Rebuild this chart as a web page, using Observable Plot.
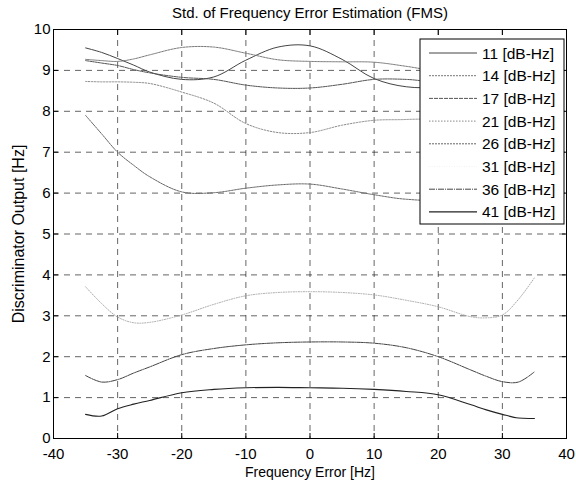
<!DOCTYPE html>
<html><head><meta charset="utf-8">
<script src="https://cdn.jsdelivr.net/npm/d3@7"></script>
<script src="https://cdn.jsdelivr.net/npm/@observablehq/plot@0.6"></script>
<style>
body{margin:0;background:#fff;}
#chart{width:576px;height:486px;}
</style></head><body><div id="chart"></div>
<script>
const title = "Std. of Frequency Error Estimation (FMS)";
const xLabel = "Frequency Error [Hz]";
const yLabel = "Discriminator Output [Hz]";
const snr = [11, 14, 17, 21, 26, 31, 36, 41];
const seriesNames = snr.map(d => `${d} [dB-Hz]`);
const xTicks = [-40, -30, -20, -10, 0, 10, 20, 30, 40];
const yTicks = [0, 1, 2, 3, 4, 5, 6, 7, 8, 9, 10];

const freq = [-35, -32.5, -30, -27.5, -25, -20, -15, -10, -5, 0, 5, 10, 15, 20, 25, 27.5, 30, 32.5, 35];
const s11 = [9.55, 9.44, 9.29, 9.13, 8.96, 8.78, 8.84, 9.25, 9.57, 9.6, 9.27, 8.8, 8.6, 8.6, 8.8, 8.95, 9.1, 9.25, 9.35];
const s14 = [9.27, 9.24, 9.22, 9.28, 9.38, 9.56, 9.57, 9.42, 9.26, 9.22, 9.21, 9.2, 9.1, 8.98, 8.95, 8.97, 9.02, 9.1, 9.2];
const s17 = [9.24, 9.18, 9.12, 9.02, 8.94, 8.83, 8.78, 8.64, 8.57, 8.57, 8.66, 8.78, 8.78, 8.72, 8.8, 8.9, 9.0, 9.1, 9.2];
const s21 = [8.73, 8.72, 8.72, 8.71, 8.68, 8.47, 8.2, 7.7, 7.48, 7.48, 7.66, 7.78, 7.8, 7.85, 8.1, 8.3, 8.5, 8.62, 8.7];
const s26 = [7.9, 7.45, 7.0, 6.68, 6.4, 6.03, 6.01, 6.12, 6.2, 6.22, 6.1, 5.96, 5.85, 5.85, 6.15, 6.45, 6.9, 7.4, 7.85];
const s31 = [3.71, 3.3, 2.97, 2.83, 2.84, 3.02, 3.28, 3.49, 3.57, 3.59, 3.57, 3.51, 3.38, 3.22, 2.98, 2.95, 3.02, 3.4, 3.93];
const s36 = [1.54, 1.38, 1.44, 1.6, 1.75, 2.05, 2.2, 2.29, 2.34, 2.36, 2.36, 2.33, 2.22, 2.0, 1.68, 1.52, 1.39, 1.38, 1.63];
const s41 = [0.59, 0.55, 0.73, 0.84, 0.93, 1.12, 1.2, 1.24, 1.25, 1.24, 1.23, 1.2, 1.15, 1.07, 0.83, 0.7, 0.59, 0.5, 0.49];

const seriesValues = [s11, s14, s17, s21, s26, s31, s36, s41];
const lineStyles = [
  {stroke: "#444", dash: null, width: 1},
  {stroke: "#777", dash: "2,1", width: 1},
  {stroke: "#555", dash: "4,1", width: 1},
  {stroke: "#888", dash: "1.5,1.5", width: 1},
  {stroke: "#666", dash: "2,1", width: 1},
  {stroke: "#aaa", dash: "1,1.5", width: 1},
  {stroke: "#444", dash: "6,1,1,1", width: 1},
  {stroke: "#222", dash: null, width: 1.1}
];

const rows = [];
seriesValues.forEach((vals, i) => vals.forEach((v, j) => rows.push({name: seriesNames[i], x: freq[j], y: v})));

const lineMarks = seriesNames.map((name, i) => Plot.line(rows.filter(r => r.name === name), {
  x: "x", y: "y", curve: "catmull-rom",
  stroke: lineStyles[i].stroke,
  strokeWidth: lineStyles[i].width,
  strokeDasharray: lineStyles[i].dash || undefined
}));

const font = "'Liberation Sans', Arial, Helvetica, sans-serif";

const svg = Plot.plot({
  width: 576, height: 486,
  marginTop: 29, marginRight: 10, marginBottom: 48, marginLeft: 53,
  style: {fontFamily: font, fontSize: "13px", background: "white", color: "black"},
  x: {domain: [-40, 40]},
  y: {domain: [0, 10]},
  marks: [
    Plot.gridX(xTicks.slice(1, -1), {stroke: "#222", strokeOpacity: 1, strokeDasharray: "6,5", strokeWidth: 0.7}),
    Plot.gridY(yTicks.slice(1, -1), {stroke: "#222", strokeOpacity: 1, strokeDasharray: "6,5", strokeWidth: 0.7}),
    ...lineMarks,
    Plot.frame({stroke: "black", strokeWidth: 1}),
    Plot.axisX({ticks: xTicks, tickSize: 0, tickPadding: 10, tickFormat: d => String(d), label: null, fontSize: 15}),
    Plot.axisX({ticks: [], tickSize: 0, label: xLabel, labelAnchor: "center", labelArrow: "none", labelOffset: 38, fontSize: 14}),
    Plot.axisY({ticks: yTicks, tickSize: 0, tickPadding: 3, tickFormat: d => String(d), label: null, fontSize: 15}),
    Plot.axisY({ticks: [], tickSize: 0, label: yLabel, labelAnchor: "center", labelArrow: "none", labelOffset: 41, fontSize: 16}),
    Plot.axisX({ticks: xTicks, anchor: "top", tickSize: -5, tickFormat: () => "", label: null}),
    Plot.axisX({ticks: xTicks, anchor: "bottom", tickSize: -5, tickFormat: () => "", label: null}),
    Plot.axisY({ticks: yTicks, anchor: "left", tickSize: -5, tickFormat: () => "", label: null}),
    Plot.axisY({ticks: yTicks, anchor: "right", tickSize: -5, tickFormat: () => "", label: null}),
    Plot.text([title], {frameAnchor: "top", lineAnchor: "middle", dy: -16, fontSize: 15})
  ]
});

// Legend box (top-right), drawn into the same SVG
const lg = d3.select(svg).append("g").attr("transform", "translate(420,39)");
lg.append("rect").attr("width", 144).attr("height", 185).attr("fill", "white").attr("stroke", "black").attr("stroke-width", 1);
seriesNames.forEach((name, i) => {
  const yy = 14 + i * 22.7;
  const st = lineStyles[i];
  lg.append("line").attr("x1", 9).attr("x2", 57).attr("y1", yy).attr("y2", yy)
    .attr("stroke", i === 5 ? "#f2f2f2" : st.stroke).attr("stroke-width", st.width)
    .attr("stroke-dasharray", st.dash);
  lg.append("text").attr("x", 62).attr("y", yy).attr("dy", "0.36em")
    .attr("text-anchor", "start")
    .attr("font-family", font).attr("font-size", 15.5).attr("fill", "black").text(name);
});

document.getElementById("chart").appendChild(svg);
</script></body></html>
